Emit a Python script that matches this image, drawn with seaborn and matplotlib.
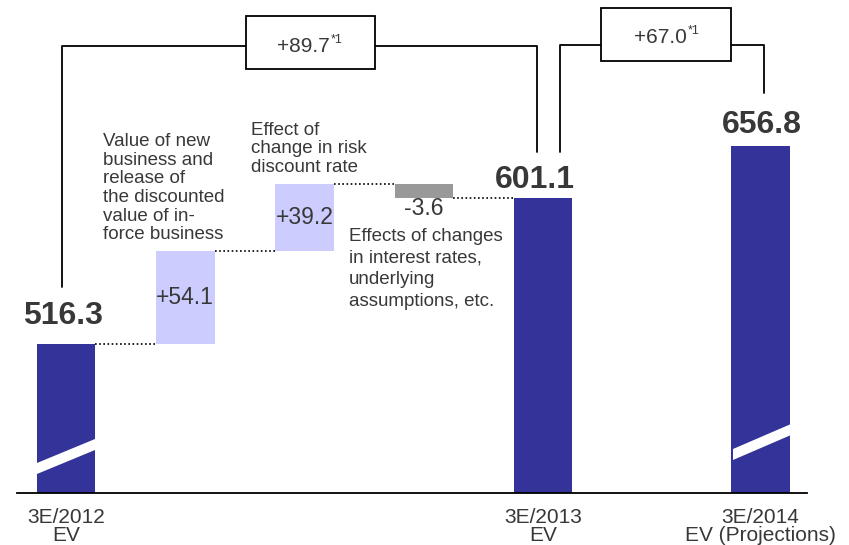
import numpy as np
import pandas as pd
import matplotlib.pyplot as plt
from matplotlib.lines import Line2D
from matplotlib.patches import Rectangle, Polygon
import seaborn as sns

# EV walk (billions of yen)
ev_2012 = 516.3
step_labels = ["+54.1", "+39.2", "-3.6"]
step_changes = [54.1, 39.2, -3.6]
ev_2013 = 601.1
ev_2014 = 656.8
diff_2013 = "+89.7"
diff_2014 = "+67.0"
tick_labels = ["3E/2012\nEV", "3E/2013\nEV", "3E/2014\nEV (Projections)"]
step_notes = [
    "Value of new\nbusiness and\nrelease of\nthe discounted\nvalue of in-\nforce business",
    "Effect of\nchange in risk\ndiscount rate",
    "Effects of changes\nin interest rates,\nunderlying\nassumptions, etc.",
]

# bar positions on the x axis (the projection column sits further right)
xpos = [0, 1, 2, 3, 4, 5.82]

# floating bars: last step closes onto the 3E/2013 total as in the chart
tops, bottoms = [ev_2012], [0]
cum = ev_2012
for i, ch in enumerate(step_changes):
    new = cum + ch
    if i == len(step_changes) - 1:
        new = ev_2013
    tops.append(max(cum, new))
    bottoms.append(min(cum, new))
    cum = new
tops += [ev_2013, ev_2014]
bottoms += [0, 0]

df = pd.DataFrame({"x": xpos, "top": tops, "bottom": bottoms})
df["height"] = df["top"] - df["bottom"]

DARK = "#333399"
LIGHT = "#ccccff"
GREY = "#999999"
TXT = "#383838"
colors = [DARK, LIGHT, LIGHT, GREY, DARK, DARK]

sns.set_style("white")
plt.rcParams["font.family"] = ["Liberation Sans", "DejaVu Sans"]

W, H = 849, 545
fig, ax = plt.subplots(figsize=(W / 100, H / 100), dpi=100)
ax.set_position([0, 52 / H, 1, 493 / H])

sns.barplot(data=df, x="x", y="height", bottom=df["bottom"].values,
            native_scale=True, width=0.49, color=DARK, saturation=1,
            linewidth=0, ax=ax)
for p, c in zip(ax.patches, colors):
    p.set_facecolor(c)
    p.set_edgecolor(c)

# broken axis: linear up to ~610, compressed above (projection not to scale)
vals = [0, 430, 610, 900]
disp = [-740, 0, 310, 539]
ax.set_yscale("function", functions=(lambda v: np.interp(v, vals, disp),
                                     lambda d: np.interp(d, disp, vals)))
ax.set_ylim(430, 841.6)
ax.set_xlim(-0.553, 6.563)

# axis cosmetics
for s in ["top", "left", "right"]:
    ax.spines[s].set_visible(False)
ax.spines["bottom"].set_color("black")
ax.spines["bottom"].set_linewidth(1.3)
ax.spines["bottom"].set_bounds(-0.411, 6.21)
ax.set_yticks([])
ax.set_xlabel("")
ax.set_ylabel("")
ax.set_xticks([xpos[0], xpos[4], xpos[5]], tick_labels)
ax.tick_params(axis="x", length=0, pad=10.5, labelsize=15, labelcolor=TXT)
for t in ax.get_xticklabels():
    t.set_linespacing(0.97)

# dotted connectors
half = 0.245
levels = [tops[0], tops[1], tops[2], bottoms[3]]
for i, lev in enumerate(levels):
    ax.plot([xpos[i] + half, xpos[i + 1] - half], [lev, lev], ls=(0, (1, 1.5)),
            color="black", lw=1.2)

# totals labels
total_idx = [0, 4, 5]
total_txt = [f"{ev_2012:.1f}", f"{ev_2013:.1f}", f"{ev_2014:.1f}"]
total_off = [(-2, 14.4), (-6, 7.2), (1, 9.4)]
for i, s, off in zip(total_idx, total_txt, total_off):
    ax.annotate(s, (xpos[i], tops[i]), xytext=off, textcoords="offset points",
                ha="center", va="baseline", fontsize=23, fontweight="bold", color=TXT)

# step labels
for k, s in enumerate(step_labels[:2]):
    i = k + 1
    ax.text(xpos[i], (tops[i] + bottoms[i]) / 2, s, ha="center", va="center",
            fontsize=16.5, color=TXT)
ax.annotate(step_labels[2], (xpos[3], bottoms[3]), xytext=(0, -12), textcoords="offset points",
            ha="center", va="baseline", fontsize=16.5, color=TXT)


def fx(px):
    return px / W


def fy(py):
    return 1 - py / H


# notes
fig.text(fx(103), fy(133), step_notes[0], ha="left", va="top", fontsize=13.5,
         color=TXT, linespacing=1.13)
fig.text(fx(251), fy(122), step_notes[1], ha="left", va="top", fontsize=13.5,
         color=TXT, linespacing=1.1)
fig.text(fx(349), fy(228), step_notes[2], ha="left", va="top", fontsize=13.5,
         color=TXT, linespacing=1.35)

# break marks
for pts in ([(37, 474), (37, 463), (95, 439), (95, 450)],
            [(733, 460), (733, 449), (791, 424), (791, 435)]):
    fig.add_artist(Polygon([(fx(a), fy(b)) for a, b in pts], closed=True,
                           facecolor="white", edgecolor="none", zorder=5))


# brackets with boxes
def bracket(path, box, text, tx, ty, sx):
    xs, ys = zip(*path)
    fig.add_artist(Line2D([fx(v) for v in xs], [fy(v) for v in ys], color="black", lw=1.3))
    x0, y0, x1, y1 = box
    fig.add_artist(Rectangle((fx(x0), fy(y1)), fx(x1 - x0), (y1 - y0) / H,
                             facecolor="white", edgecolor="black", lw=1.3, zorder=6))
    fig.text(fx(tx), fy(ty), text, ha="right", va="baseline", fontsize=15, color=TXT, zorder=7)
    fig.text(fx(sx), fy(ty - 9), "*1", ha="left", va="baseline", fontsize=9, color=TXT, zorder=7)


bracket([(62, 287), (62, 46), (246, 46)], (246, 16, 375, 69), diff_2013, 330, 52, 331)
fig.add_artist(Line2D([fx(375), fx(537), fx(537)], [fy(46), fy(46), fy(152)],
                      color="black", lw=1.3))
bracket([(560, 152), (560, 45), (601, 45)], (601, 8, 731, 61), diff_2014, 687, 43, 688)
fig.add_artist(Line2D([fx(731), fx(764), fx(764)], [fy(45), fy(45), fy(93)],
                      color="black", lw=1.3))

fig.savefig("out.png", dpi=100)
